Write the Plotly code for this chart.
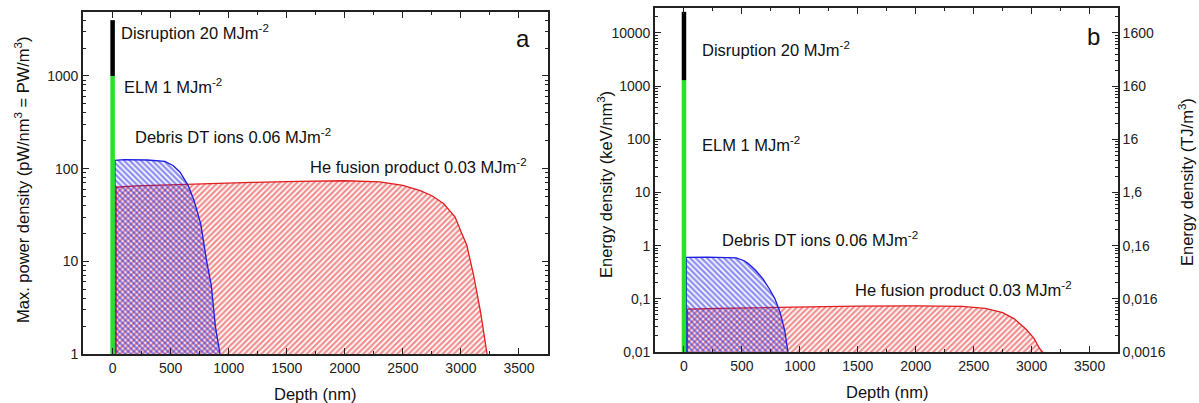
import plotly.graph_objects as go
import math

# ---------------- data: panel a (max. power density, pW/nm^3) ----------------
he_depth_a = [30, 200, 500, 800, 1200, 1600, 2000, 2300, 2500, 2650, 2750, 2850, 2950, 3000, 3050, 3110, 3170, 3225]
he_pow_a = [63, 65, 67, 69, 71, 73, 74, 72, 66, 58, 51, 42, 30, 21, 15, 7.0, 2.8, 1.0]

dt_depth_a = [20, 100, 300, 450, 520, 580, 650, 700, 760, 810, 850, 885, 925]
dt_pow_a = [123, 125, 124, 120, 108, 92, 66, 46, 25, 10, 5.5, 2.0, 1.0]

elm_depth_a = [0, 0]
elm_pow_a = [1, 1000]
disr_depth_a = [0, 0]
disr_pow_a = [1000, 4000]

# ---------------- data: panel b (energy density, keV/nm^3) ----------------
he_depth_b = [30, 300, 800, 1500, 2000, 2400, 2600, 2750, 2850, 2950, 3020, 3070, 3095]
he_en_b = [0.064, 0.066, 0.069, 0.073, 0.074, 0.072, 0.066, 0.055, 0.042, 0.027, 0.018, 0.0115, 0.01]

dt_depth_b = [20, 200, 400, 450, 520, 560, 620, 680, 740, 785, 830, 870, 897]
dt_en_b = [0.60, 0.61, 0.60, 0.59, 0.52, 0.45, 0.34, 0.24, 0.15, 0.10, 0.055, 0.025, 0.01]

elm_depth_b = [0, 0]
elm_en_b = [0.01, 1300]
disr_depth_b = [0, 0]
disr_en_b = [1300, 25000]

# tick labels
x_ticks = [0, 500, 1000, 1500, 2000, 2500, 3000, 3500]
ya_ticks = [1, 10, 100, 1000]
ya_text = ["1", "10", "100", "1000"]
yb_ticks = [0.01, 0.1, 1, 10, 100, 1000, 10000]
yb_text = ["0,01", "0,1", "1", "10", "100", "1000", "10000"]
kev_to_tj = 0.16
yc_ticks = [0.0016, 0.016, 0.16, 1.6, 16, 160, 1600]
yc_text = ["0,0016", "0,016", "0,16", "1,6", "16", "160", "1600"]

FONT = "Liberation Sans, Arial, sans-serif"
W, H = 1199, 403
RED = "rgb(225,30,30)"
BLUE = "rgb(30,30,225)"
GREEN = "rgb(40,225,40)"
SOLID_RED = 0.55
SOLID_BLUE = 0.6


def closed(xs, ys, base):
    return [xs[0]] + list(xs) + [xs[-1]], [base] + list(ys) + [base]


def minor_vals(lo_exp, hi_exp, base=1.0):
    out = []
    for e in range(lo_exp, hi_exp + 1):
        for m in range(2, 10):
            out.append(base * m * 10 ** e)
    return out


fig = go.Figure()

# ----- panel a -----
x, y = closed(he_depth_a, he_pow_a, ya_ticks[0])
fig.add_trace(go.Scatter(x=x, y=y, xaxis="x", yaxis="y", mode="lines", fill="toself",
                         line=dict(color=RED, width=1.3), fillcolor="rgba(0,0,0,0)",
                         fillpattern=dict(shape="/", fgcolor=RED, bgcolor="rgba(0,0,0,0)",
                                          size=4, solidity=SOLID_RED),
                         hoverinfo="skip", showlegend=False))
x, y = closed(dt_depth_a, dt_pow_a, ya_ticks[0])
fig.add_trace(go.Scatter(x=x, y=y, xaxis="x", yaxis="y", mode="lines", fill="toself",
                         line=dict(color=BLUE, width=1.3), fillcolor="rgba(0,0,0,0)",
                         fillpattern=dict(shape="\\", fgcolor=BLUE, bgcolor="rgba(0,0,0,0)",
                                          size=4, solidity=SOLID_BLUE),
                         hoverinfo="skip", showlegend=False))
fig.add_trace(go.Scatter(x=elm_depth_a, y=elm_pow_a, xaxis="x", yaxis="y", mode="lines",
                         line=dict(color=GREEN, width=4.5), showlegend=False))
fig.add_trace(go.Scatter(x=disr_depth_a, y=disr_pow_a, xaxis="x", yaxis="y", mode="lines",
                         line=dict(color="black", width=4.5), showlegend=False))

# ----- panel b -----
x, y = closed(he_depth_b, he_en_b, yb_ticks[0])
fig.add_trace(go.Scatter(x=x, y=y, xaxis="x2", yaxis="y2", mode="lines", fill="toself",
                         line=dict(color=RED, width=1.3), fillcolor="rgba(0,0,0,0)",
                         fillpattern=dict(shape="/", fgcolor=RED, bgcolor="rgba(0,0,0,0)",
                                          size=4, solidity=SOLID_RED),
                         hoverinfo="skip", showlegend=False))
x, y = closed(dt_depth_b, dt_en_b, yb_ticks[0])
fig.add_trace(go.Scatter(x=x, y=y, xaxis="x2", yaxis="y2", mode="lines", fill="toself",
                         line=dict(color=BLUE, width=1.3), fillcolor="rgba(0,0,0,0)",
                         fillpattern=dict(shape="\\", fgcolor=BLUE, bgcolor="rgba(0,0,0,0)",
                                          size=4, solidity=SOLID_BLUE),
                         hoverinfo="skip", showlegend=False))
fig.add_trace(go.Scatter(x=elm_depth_b, y=elm_en_b, xaxis="x2", yaxis="y2", mode="lines",
                         line=dict(color=GREEN, width=4.5), showlegend=False))
fig.add_trace(go.Scatter(x=disr_depth_b, y=disr_en_b, xaxis="x2", yaxis="y2", mode="lines",
                         line=dict(color="black", width=4.5), showlegend=False))
# secondary (TJ/m^3) axis carrier
fig.add_trace(go.Scatter(x=disr_depth_b, y=[v * kev_to_tj for v in disr_en_b], xaxis="x2", yaxis="y3",
                         mode="lines", line=dict(color="rgba(0,0,0,0)", width=0),
                         hoverinfo="skip", showlegend=False))


def px_x(p):
    return p / W


def px_y(p):
    return 1 - p / H


axis_common = dict(showline=True, linecolor="#222", linewidth=1.6, ticks="inside",
                   tickcolor="#222", tickwidth=1.2, ticklen=6, showgrid=False, zeroline=False,
                   tickfont=dict(family=FONT, size=14, color="#222"), automargin=False)

fig.update_layout(
    width=W, height=H, margin=dict(l=0, r=0, t=0, b=0),
    paper_bgcolor="white", plot_bgcolor="white",
    xaxis=dict(domain=[px_x(83), px_x(548)], anchor="y", range=[-255, 3750],
               tickmode="array", tickvals=x_ticks, mirror="ticks",
               minor=dict(ticks="inside", dtick=250, tick0=0, ticklen=3, tickcolor="#222"),
               **axis_common),
    yaxis=dict(domain=[px_y(354), px_y(12)], anchor="x", type="log", range=[0, 3.69],
               tickmode="array", tickvals=ya_ticks, ticktext=ya_text, mirror="ticks",
               minor=dict(ticks="inside", tickmode="array", tickvals=minor_vals(0, 3),
                          ticklen=3, tickcolor="#222"),
               **axis_common),
    xaxis2=dict(domain=[px_x(655), px_x(1118)], anchor="y2", range=[-250, 3745],
                tickmode="array", tickvals=x_ticks, mirror="ticks",
                minor=dict(ticks="inside", dtick=250, tick0=0, ticklen=3, tickcolor="#222"),
                **axis_common),
    yaxis2=dict(domain=[px_y(352), px_y(8)], anchor="x2", type="log", range=[-2, 4.47],
                tickmode="array", tickvals=yb_ticks, ticktext=yb_text,
                minor=dict(ticks="inside", tickmode="array", tickvals=minor_vals(-2, 4),
                           ticklen=3, tickcolor="#222"),
                **axis_common),
    yaxis3=dict(overlaying="y2", anchor="x2", side="right", type="log",
                range=[-2 + math.log10(kev_to_tj), 4.47 + math.log10(kev_to_tj)],
                tickmode="array", tickvals=yc_ticks, ticktext=yc_text,
                minor=dict(ticks="inside", tickmode="array", tickvals=minor_vals(-3, 3, 1.6),
                           ticklen=3, tickcolor="#222"),
                **axis_common),
)

ann_font = dict(family=FONT, size=16.5, color="#111")
annotations = [
    # panel a labels (y in log10 units)
    dict(x=54, y=3.47, xref="x", yref="y", text="Disruption 20 MJm<sup>-2</sup>"),
    dict(x=78, y=2.89, xref="x", yref="y", text="ELM 1 MJm<sup>-2</sup>"),
    dict(x=175, y=2.35, xref="x", yref="y", text="Debris DT ions 0.06 MJm<sup>-2</sup>"),
    dict(x=1685, y=2.03, xref="x", yref="y", text="He fusion product 0.03 MJm<sup>-2</sup>"),
    # panel b labels
    dict(x=138, y=3.70, xref="x2", yref="y2", text="Disruption 20 MJm<sup>-2</sup>"),
    dict(x=138, y=1.906, xref="x2", yref="y2", text="ELM 1 MJm<sup>-2</sup>"),
    dict(x=310, y=0.126, xref="x2", yref="y2", text="Debris DT ions 0.06 MJm<sup>-2</sup>"),
    dict(x=1457, y=-0.815, xref="x2", yref="y2", text="He fusion product 0.03 MJm<sup>-2</sup>"),
]
for a in annotations:
    a.update(xanchor="left", yanchor="middle", showarrow=False, font=ann_font)

title_font = dict(family=FONT, size=16.5, color="#111")
annotations += [
    dict(x=px_x(523), y=px_y(38), xref="paper", yref="paper", text="a", showarrow=False,
         xanchor="center", yanchor="middle", font=dict(family=FONT, size=24, color="#111")),
    dict(x=px_x(1093), y=px_y(37), xref="paper", yref="paper", text="b", showarrow=False,
         xanchor="center", yanchor="middle", font=dict(family=FONT, size=24, color="#111")),
    dict(x=px_x(315), y=px_y(394), xref="paper", yref="paper", text="Depth (nm)", showarrow=False,
         xanchor="center", yanchor="middle", font=title_font),
    dict(x=px_x(887), y=px_y(392), xref="paper", yref="paper", text="Depth (nm)", showarrow=False,
         xanchor="center", yanchor="middle", font=title_font),
    dict(x=px_x(22), y=px_y(180), xref="paper", yref="paper",
         text="Max. power density (pW/nm<sup>3</sup> = PW/m<sup>3</sup>)", showarrow=False,
         textangle=-90, xanchor="center", yanchor="middle", font=title_font),
    dict(x=px_x(605), y=px_y(185), xref="paper", yref="paper",
         text="Energy density (keV/nm<sup>3</sup>)", showarrow=False,
         textangle=-90, xanchor="center", yanchor="middle", font=title_font),
    dict(x=px_x(1186), y=px_y(182), xref="paper", yref="paper",
         text="Energy density (TJ/m<sup>3</sup>)", showarrow=False,
         textangle=-90, xanchor="center", yanchor="middle", font=title_font),
]
fig.update_layout(annotations=annotations)

fig.write_html(
    "out.html",
    config={"displayModeBar": False},
    post_script="document.body.style.margin='0px';document.body.style.overflow='hidden';",
)
